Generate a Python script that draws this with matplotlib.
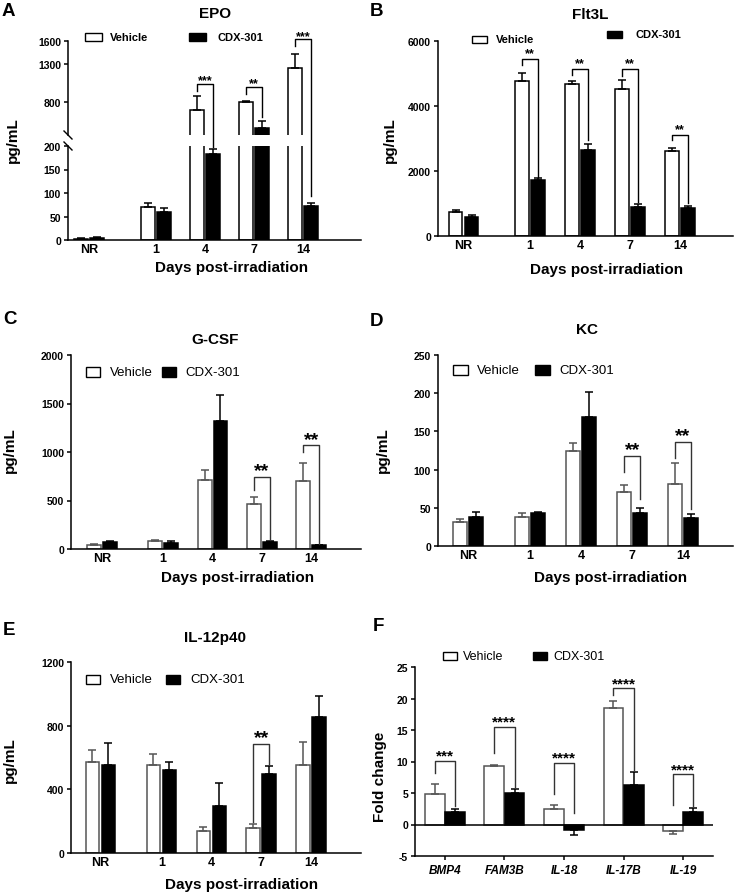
import numpy as np
import matplotlib
matplotlib.use('Agg')
import matplotlib.pyplot as plt
from matplotlib.patches import Rectangle
from matplotlib.lines import Line2D

plt.rcParams['font.family'] = ['Liberation Sans', 'DejaVu Sans']
plt.rcParams['font.weight'] = 'bold'
plt.rcParams['axes.unicode_minus'] = False

# ---- data ----
days = ['NR', '1', '4', '7', '14']

epo_veh = [3, 71, 690, 795, 1245]
epo_veh_sem = [1.5, 7, 185, 12, 190]
epo_cdx = [4.5, 60, 182, 460, 73]
epo_cdx_sem = [2, 8, 11, 88, 6]

flt_veh = [735, 4779, 4667, 4533, 2605]
flt_veh_sem = [65, 236, 92, 267, 103]
flt_cdx = [600, 1713, 2636, 900, 865]
flt_cdx_sem = [55, 82, 205, 75, 50]

gcsf_veh = [40, 82, 714, 467, 703]
gcsf_veh_sem = [8, 9, 96, 68, 185]
gcsf_cdx = [68, 66, 1317, 75, 38]
gcsf_cdx_sem = [18, 17, 268, 12, 6]

kc_veh = [32, 38, 125, 71, 81]
kc_veh_sem = [3, 5.6, 10, 9, 27]
kc_cdx = [38, 43.6, 169, 43.6, 36.6]
kc_cdx_sem = [6.5, 1.4, 32.6, 6.4, 4.8]

il12_veh = [572, 551, 138, 157, 551]
il12_veh_sem = [75, 69, 25, 23, 144]
il12_cdx = [551, 519, 293, 494, 854]
il12_cdx_sem = [142, 53, 147, 53, 130]

genes = ['BMP4', 'FAM3B', 'IL-18', 'IL-17B', 'IL-19']
fc_veh = [4.92, 9.26, 2.49, 18.5, -1.0]
fc_veh_sem = [1.43, 0.21, 0.68, 1.1, 0.48]
fc_cdx = [2.06, 5.03, -0.95, 6.24, 2.0]
fc_cdx_sem = [0.43, 0.63, 0.64, 2.06, 0.54]

# significance: (group, bracket y, left leg end, right leg end, label)
epo_sig = [(2, 1040, 944, 197, '***'), (3, 1000, 900, 604, '**'), (4, 1622, 1535, 94, '***')]
flt_sig = [(1, 5436, 5272, 1815, '**'), (2, 5128, 4944, 2944, '**'),
           (3, 5128, 4923, 1046, '**'), (4, 3108, 2944, 1026, '**')]
gcsf_sig = [(3, 744, 607, 96, '**'), (4, 1070, 995, 51, '**')]
kc_sig = [(3, 117.8, 97, 61, '**'), (4, 136, 115.6, 48, '**')]
il12_sig = [(3, 685, 195, 561, '**')]
fc_sig = [(0, 10.05, 8.2, 2.9, '***'), (1, 15.45, 11.27, 5.9, '****'),
          (2, 9.79, 4.92, 1.75, '****'), (3, 21.6, 20.5, 8.73, '****'),
          (4, 7.94, 3.17, 2.9, '****')]

W, H = 736, 895
fig = plt.figure(figsize=(W / 100, H / 100), dpi=100)


def add_ax(l, t, r, b):
    return fig.add_axes([l / W, 1 - b / H, (r - l) / W, (b - t) / H])


def ftext(x, y, s, **kw):
    fig.text(x / W, 1 - y / H, s, **kw)


def style(ax, ytick_size=7.5):
    for s in ['top', 'right']:
        ax.spines[s].set_visible(False)
    for s in ['left', 'bottom']:
        ax.spines[s].set_linewidth(1.1)
    ax.tick_params(axis='y', direction='out', length=3, width=1.1, labelsize=ytick_size, pad=2)
    ax.tick_params(axis='x', length=0, labelsize=9, pad=2)
    for lab in ax.get_yticklabels():
        lab.set_fontweight('bold')


def bars(ax, xs, veh, veh_sem, cdx, cdx_sem, w, off, edge='black'):
    veh = np.array(veh, float)
    cdx = np.array(cdx, float)
    vs = np.array(veh_sem, float)
    cs = np.array(cdx_sem, float)
    verr = [np.where(veh < 0, vs, 0), np.where(veh >= 0, vs, 0)]
    cerr = [np.where(cdx < 0, cs, 0), np.where(cdx >= 0, cs, 0)]
    ax.bar(xs - off, veh, w, color='white', edgecolor=edge, linewidth=1.1, yerr=verr,
           error_kw=dict(ecolor=edge, elinewidth=1.1, capsize=3.2, capthick=1.1), zorder=2)
    ax.bar(xs + off, cdx, w, color='black', edgecolor='black', linewidth=1.1, yerr=cerr,
           error_kw=dict(ecolor='black', elinewidth=1.1, capsize=3.2, capthick=1.1), zorder=2)


def brackets(ax, xs, off, sig, size, dy, color='black'):
    for g, yb, yl, yr, lab in sig:
        xl, xr = xs[g] - off, xs[g] + off
        ax.plot([xl, xl, xr, xr], [yl, yb, yb, yr], color=color, lw=1.0, clip_on=False, zorder=3)
        ax.annotate(lab, xy=((xl + xr) / 2, yb), xytext=(0, dy), textcoords='offset points',
                    ha='center', va='baseline', fontsize=size, fontweight='bold',
                    annotation_clip=False)


def legend(y_box, xw, xwt, xb, xbt, bw, bh, size, weight, yb_box=None, yb_text=None):
    if yb_box is None:
        yb_box = y_box
    if yb_text is None:
        yb_text = yb_box
    fig.add_artist(Rectangle((xw / W, 1 - (y_box + bh / 2) / H), bw / W, bh / H,
                             transform=fig.transFigure, facecolor='white', edgecolor='black', lw=1.0))
    fig.add_artist(Rectangle((xb / W, 1 - (yb_box + bh / 2) / H), bw / W, bh / H,
                             transform=fig.transFigure, facecolor='black', edgecolor='black', lw=1.0))
    ftext(xwt, y_box, 'Vehicle', fontsize=size, fontweight=weight, va='center', ha='left')
    ftext(xbt, yb_text, 'CDX-301', fontsize=size, fontweight=weight, va='center', ha='left')


def positions(gap):
    return np.array([0, gap, gap + 1, gap + 2, gap + 3])


# ---------- A: EPO (broken axis) ----------
xa = positions(1.37)
ax_up = add_ax(68, 42, 361, 136)
ax_lo = add_ax(68, 147, 361, 241)
for ax in (ax_up, ax_lo):
    bars(ax, xa, epo_veh, epo_veh_sem, epo_cdx, epo_cdx_sem, 0.28, 0.16)
    ax.set_xlim(-0.43, 5.55)
    style(ax)
ax_up.set_ylim(363, 1600)
ax_up.set_yticks([800, 1300, 1600])
ax_up.spines['bottom'].set_visible(False)
ax_up.set_xticks([])
ax_lo.set_ylim(0, 200)
ax_lo.set_yticks([0, 50, 100, 150, 200])
ax_lo.set_xticks(xa)
ax_lo.set_xticklabels(days, fontweight='bold')
for ax in (ax_up, ax_lo):
    for lab in ax.get_yticklabels():
        lab.set_fontweight('bold')

inv = fig.transFigure.inverted()


def a_pt(x, v):
    ax = ax_up if v > 300 else ax_lo
    return inv.transform(ax.transData.transform((x, v)))


for g, yb, yl, yr, lab in epo_sig:
    xl, xr = xa[g] - 0.16, xa[g] + 0.16
    pts = [a_pt(xl, yl), a_pt(xl, yb), a_pt(xr, yb), a_pt(xr, yr)]
    fig.add_artist(Line2D([p[0] for p in pts], [p[1] for p in pts], color='black', lw=1.0,
                          transform=fig.transFigure))
    ax_up.annotate(lab, xy=(xa[g], yb), xytext=(0, 0.3), textcoords='offset points',
                   ha='center', va='baseline', fontsize=9, fontweight='bold', annotation_clip=False)

# break marks
for yy in (136, 147):
    fig.add_artist(Line2D([64 / W, 72 / W], [1 - (yy - 4) / H, 1 - (yy + 4) / H],
                          color='black', lw=1.0, transform=fig.transFigure))

ftext(215, 14, 'EPO', fontsize=11, fontweight='bold', ha='center', va='center')
ftext(13, 140, 'pg/mL', fontsize=11, fontweight='bold', ha='center', va='center', rotation=90)
ftext(232, 268, 'Days post-irradiation', fontsize=11, fontweight='bold', ha='center', va='center')
legend(38, 85, 110, 189, 217, 17, 7.5, 8, 'bold')
ftext(2, 12, 'A', fontsize=13.5, fontweight='bold', ha='left', va='center')

# ---------- B: Flt3L ----------
xb = positions(1.33)
ax = add_ax(438, 42, 733, 237)
bars(ax, xb, flt_veh, flt_veh_sem, flt_cdx, flt_cdx_sem, 0.27, 0.16)
ax.set_xlim(-0.51, 5.39)
ax.set_ylim(0, 6000)
ax.set_yticks([0, 2000, 4000, 6000])
ax.set_xticks(xb)
ax.set_xticklabels(days, fontweight='bold')
style(ax)
brackets(ax, xb, 0.16, flt_sig, 9, 2)
ftext(590, 15, 'Flt3L', fontsize=11, fontweight='bold', ha='center', va='center')
ftext(390, 140, 'pg/mL', fontsize=11, fontweight='bold', ha='center', va='center', rotation=90)
ftext(607, 270, 'Days post-irradiation', fontsize=11, fontweight='bold', ha='center', va='center')
legend(40, 472, 496, 607, 635, 15, 7, 8, 'bold', yb_box=35.5, yb_text=35)
ftext(370, 11, 'B', fontsize=13.5, fontweight='bold', ha='left', va='center')

# ---------- C: G-CSF ----------
xc = positions(1.24)
ax = add_ax(71, 356, 361, 550)
bars(ax, xc, gcsf_veh, gcsf_veh_sem, gcsf_cdx, gcsf_cdx_sem, 0.28, 0.16, edge='#555555')
ax.set_xlim(-0.63, 5.25)
ax.set_ylim(0, 2000)
ax.set_yticks([0, 500, 1000, 1500, 2000])
ax.set_xticks(xc)
ax.set_xticklabels(days, fontweight='bold')
style(ax)
brackets(ax, xc, 0.16, gcsf_sig, 14, 1.0, color='#333333')
ftext(215, 340, 'G-CSF', fontsize=11, fontweight='bold', ha='center', va='center')
ftext(10, 450, 'pg/mL', fontsize=11, fontweight='bold', ha='center', va='center', rotation=90)
ftext(238, 578, 'Days post-irradiation', fontsize=11, fontweight='bold', ha='center', va='center')
legend(373, 86, 110, 162, 185, 14, 9, 9.5, 'normal')
ftext(3, 319, 'C', fontsize=13.5, fontweight='bold', ha='left', va='center')

# ---------- D: KC ----------
xd = positions(1.22)
ax = add_ax(438, 356, 733, 547)
bars(ax, xd, kc_veh, kc_veh_sem, kc_cdx, kc_cdx_sem, 0.28, 0.155, edge='#555555')
ax.set_xlim(-0.59, 5.2)
ax.set_ylim(0, 250)
ax.set_yticks([0, 50, 100, 150, 200, 250])
ax.set_xticks(xd)
ax.set_xticklabels(days, fontweight='bold')
style(ax)
brackets(ax, xd, 0.155, kc_sig, 14, 1.4, color='#333333')
ftext(587, 330, 'KC', fontsize=11, fontweight='bold', ha='center', va='center')
ftext(383, 450, 'pg/mL', fontsize=11, fontweight='bold', ha='center', va='center', rotation=90)
ftext(611, 578, 'Days post-irradiation', fontsize=11, fontweight='bold', ha='center', va='center')
legend(371, 453, 477, 535, 559, 15, 9, 9.5, 'normal')
ftext(370, 321, 'D', fontsize=13.5, fontweight='bold', ha='left', va='center')

# ---------- E: IL-12p40 ----------
xe = positions(1.22)
ax = add_ax(71, 663, 361, 854)
bars(ax, xe, il12_veh, il12_veh_sem, il12_cdx, il12_cdx_sem, 0.27, 0.16, edge='#555555')
ax.set_xlim(-0.59, 5.22)
ax.set_ylim(0, 1200)
ax.set_yticks([0, 400, 800, 1200])
ax.set_xticks(xe)
ax.set_xticklabels(days, fontweight='bold')
style(ax)
brackets(ax, xe, 0.16, il12_sig, 14, 1.4, color='#333333')
ftext(215, 638, 'IL-12p40', fontsize=11, fontweight='bold', ha='center', va='center')
ftext(10, 760, 'pg/mL', fontsize=11, fontweight='bold', ha='center', va='center', rotation=90)
ftext(242, 885, 'Days post-irradiation', fontsize=11, fontweight='bold', ha='center', va='center')
legend(680.5, 86, 110, 166, 190, 14, 9, 9.5, 'normal')
ftext(3, 631, 'E', fontsize=13.5, fontweight='bold', ha='left', va='center')

# ---------- F: fold change ----------
xf = np.arange(len(genes))
ax = add_ax(415, 668, 713, 857)
bars(ax, xf, fc_veh, fc_veh_sem, fc_cdx, fc_cdx_sem, 0.33, 0.17, edge='#555555')
ax.axhline(0, color='black', lw=1.1, zorder=3)
ax.set_xlim(-0.5, 4.5)
ax.set_ylim(-5, 25)
ax.set_yticks([-5, 0, 5, 10, 15, 20, 25])
ax.set_xticks(xf)
ax.set_xticklabels(genes, fontweight='bold', fontstyle='italic', fontsize=8.5)
style(ax)
ax.tick_params(axis='x', direction='out', length=3, width=1.1, labelsize=8.5, pad=3)
brackets(ax, xf, 0.17, fc_sig, 11, 1.0, color='#333333')
ftext(380, 777, 'Fold change', fontsize=11, fontweight='bold', ha='center', va='center', rotation=90)
legend(656.7, 443, 463, 533, 553, 14, 8, 9, 'normal')
ftext(373, 627, 'F', fontsize=13.5, fontweight='bold', ha='left', va='center')

fig.savefig('out.png', dpi=100)
